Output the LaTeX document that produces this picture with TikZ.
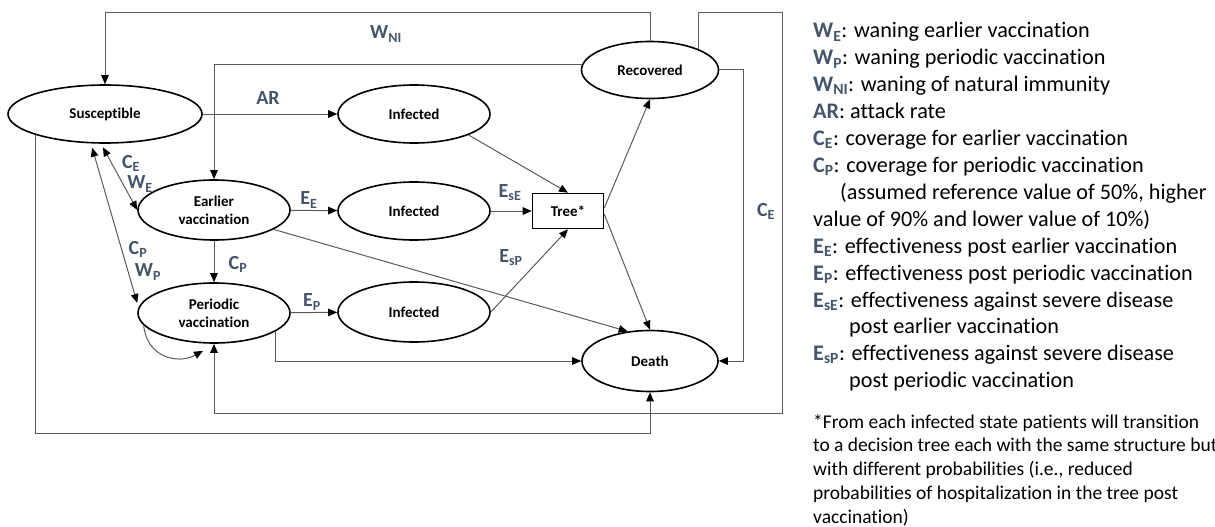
\documentclass[tikz,border=0pt]{standalone}
\usepackage{fontspec}
\setmainfont{Carlito}[Ligatures=NoCommon]
\usetikzlibrary{shapes.geometric,arrows.meta}
\definecolor{lblblue}{HTML}{44546A}
\definecolor{linegray}{HTML}{5A5A5A}
% bold blue-grey symbol with subscript
\newcommand{\lab}[2]{{\bfseries\color{lblblue}#1\textsubscript{#2}}}
\newcommand{\legfont}{\fontsize{22.2}{27}\selectfont}
\newcommand{\notefont}{\fontsize{19.5}{24}\selectfont}
\begin{document}
\begin{tikzpicture}[x=1pt,y=-1pt,
  state/.style={ellipse, draw=black, line width=1.6pt, inner sep=0pt, align=center,
    font=\fontsize{15}{18}\selectfont\bfseries},
  conn/.style={draw=linegray, line width=1pt, -{Triangle[length=9pt,width=7.5pt,color=black]}},
  twoway/.style={draw=linegray, line width=1pt,
    {Triangle[length=9pt,width=7.5pt,color=black]}-{Triangle[length=9pt,width=7.5pt,color=black]}},
  rate/.style={font=\fontsize{20}{24}\selectfont\bfseries, text=lblblue, inner sep=0pt},
  leg/.style={anchor=base west, inner sep=0pt, font=\legfont},
  note/.style={anchor=base west, inner sep=0pt, font=\notefont}]
\useasboundingbox (0,0) rectangle (1215,527);
\clip (0,0) rectangle (1215,527);

% states
\node [state, minimum width=194pt, minimum height=58pt] (sus) at (105,114) {Susceptible};
\node [state, minimum width=152pt, minimum height=58pt] (infAR) at (414,114) {Infected};
\node [state, minimum width=152pt, minimum height=60pt] (earlier) at (214,210) {Earlier\\vaccination};
\node [state, minimum width=152pt, minimum height=58pt] (infE) at (414,211) {Infected};
\node [state, minimum width=152pt, minimum height=60pt] (periodic) at (214,313) {Periodic\\vaccination};
\node [state, minimum width=152pt, minimum height=60pt] (infP) at (414,312) {Infected};
\node [draw=black, line width=1.6pt, minimum width=71pt, minimum height=35pt, inner sep=0pt,
  font=\fontsize{15}{18}\selectfont\bfseries] (tree) at (568,211) {Tree*};
\node [state, minimum width=137pt, minimum height=57pt] (recov) at (650,70) {Recovered};
\node [state, minimum width=136pt, minimum height=61pt] (death) at (650,361) {Death};

% routing levels
\coordinate (yTop) at (0,13);
\coordinate (yBotA) at (0,413);
\coordinate (yBotB) at (0,433);
\coordinate (xRA) at (743,0);
\coordinate (xRB) at (782,0);

% connectors
\draw [conn] (sus) -- (infAR);
\draw [conn] (earlier) -- (infE);
\draw [conn] (periodic) -- (infP);
\draw [conn] (earlier) -- (periodic);
\draw [conn] (infE) -- (tree);
\draw [conn] (infAR.-21) -- (tree.north);
\draw [conn] (infP.east) -- (tree.south);
\draw [conn] (tree.5) -- (recov.south);
\draw [conn] (tree.-5) -- (death.north);
\draw [conn] (earlier.-18) -- (death.127);
\draw [conn] (periodic.-17) |- (death.west);
\draw [conn] (recov.north) -- (recov.north |- yTop) -| (sus.north);
\draw [conn] (recov.175) -| (earlier.north);
\draw [conn] (recov.east) -| (xRA |- death.east) -- (death.east);
\draw [conn] (recov.23) |- (xRB |- yTop) -- (xRB |- yBotA) -| (periodic.south);
\draw [conn] (sus.197) |- (death.south |- yBotB) -- (death.south);
\draw [twoway, shorten <=4pt] ([xshift=-4pt]sus.south) -- (earlier.west);
\draw [twoway, shorten <=4pt] ([xshift=-14pt]sus.south) -- ([yshift=10pt]periodic.west);
\draw [conn] (periodic.190) .. controls +(3,32) and +(-25,14) .. ([shift={(-11,7)}]periodic.south);

% transition labels
\node [rate] (lNI) at (386,34) {W\textsubscript{NI}};
\node [rate] (lAR) at (268,98) {AR};
\node [rate] (lCEa) at (131,163) {C\textsubscript{E}};
\node [rate] (lWEa) at (140,184) {W\textsubscript{E}};
\node [rate] (lCPa) at (138,249) {C\textsubscript{P}};
\node [rate] (lWPa) at (148,272) {W\textsubscript{P}};
\node [rate] (lCPb) at (238,264) {C\textsubscript{P}};
\node [rate] (lEE) at (309,200) {E\textsubscript{E}};
\node [rate] (lEP) at (312,302) {E\textsubscript{P}};
\node [rate] (lEsE) at (510,193) {E\textsubscript{sE}};
\node [rate] (lEsP) at (511,258) {E\textsubscript{sP}};
\node [rate] (lCEb) at (766,211) {C\textsubscript{E}};

% legend
\node [leg] (leg1) at (813,38) {\lab{W}{E}: waning earlier vaccination};
\node [leg] (leg2) at (813,64.9) {\lab{W}{P}: waning periodic vaccination};
\node [leg] (leg3) at (813,91.8) {\lab{W}{NI}: waning of natural immunity};
\node [leg] (leg4) at (813,118.7) {{\bfseries\color{lblblue}AR}: attack rate};
\node [leg] (leg5) at (813,145.6) {\lab{C}{E}: coverage for earlier vaccination};
\node [leg] (leg6) at (813,172.5) {\lab{C}{P}: coverage for periodic vaccination};
\node [leg] (leg7) at (840,199.4) {(assumed reference value of 50\%, higher};
\node [leg] (leg8) at (813,226.3) {value of 90\% and lower value of 10\%)};
\node [leg] (leg9) at (813,253.2) {\lab{E}{E}: effectiveness post earlier vaccination};
\node [leg] (leg10) at (813,280.1) {\lab{E}{P}: effectiveness post periodic vaccination};
\node [leg] (leg11) at (813,307) {\lab{E}{sE}: effectiveness against severe disease};
\node [leg] (leg12) at (849,333.9) {post earlier vaccination};
\node [leg] (leg13) at (813,360.8) {\lab{E}{sP}: effectiveness against severe disease};
\node [leg] (leg14) at (849,387.7) {post periodic vaccination};

% footnote
\node [note] (note1) at (813,428) {*From each infected state patients will transition};
\node [note] (note2) at (813,451.8) {to a decision tree each with the same structure but};
\node [note] (note3) at (813,475.6) {with different probabilities (i.e., reduced};
\node [note] (note4) at (813,499.4) {probabilities of hospitalization in the tree post};
\node [note] (note5) at (813,523.2) {vaccination)};
\end{tikzpicture}
\end{document}
